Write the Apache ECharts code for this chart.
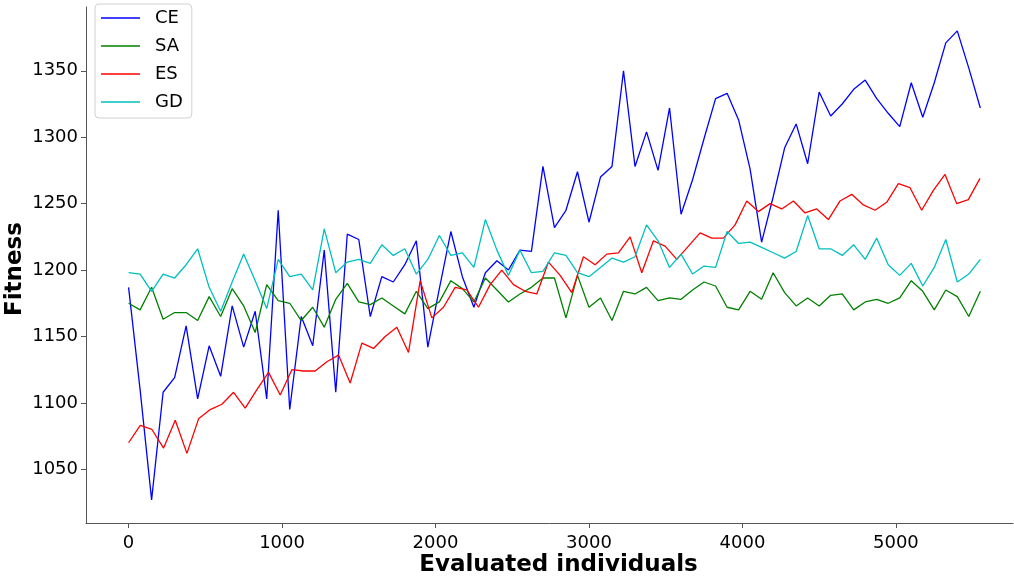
<!DOCTYPE html>
<html>
<head>
<meta charset="utf-8">
<script src="https://cdn.jsdelivr.net/npm/echarts@6/dist/echarts.min.js"></script>
<style>
  html, body { margin: 0; padding: 0; background: #fff; }
  #fitnessChart { width: 1014px; height: 578px; }
</style>
</head>
<body>
<div id="fitnessChart"></div>
<script>
// evaluated individuals (CE, SA, GD share the same steps)
var evals = [0,75,150,225,300,375,450,525,600,675,750,825,900,975,1050,1125,1200,1275,1350,1425,
  1500,1575,1650,1725,1800,1875,1950,2025,2100,2175,2250,2325,2400,2475,2550,2625,2700,2775,2850,2925,
  3000,3075,3150,3225,3300,3375,3450,3525,3600,3675,3750,3825,3900,3975,4050,4125,4200,4275,4350,4425,
  4500,4575,4650,4725,4800,4875,4950,5025,5100,5175,5250,5325,5400,5475,5550];
// ES has its own evaluation steps
var evalsES = [0,76,152,228,304,380,456,532,608,684,760,836,912,988,1064,1140,1216,1292,1368,1444,
  1520,1596,1672,1748,1824,1900,1976,2052,2128,2204,2280,2356,2432,2508,2584,2660,2736,2812,2888,2964,
  3040,3116,3192,3268,3344,3420,3496,3572,3648,3724,3800,3876,3952,4028,4104,4180,4256,4332,4408,4484,
  4560,4636,4712,4788,4864,4940,5016,5092,5168,5244,5320,5396,5472,5548];

var ceFitness = [1187,1110,1027,1108,1119,1158,1103,1143,1120,1173,1142,1169,1103,1245,1095,1165,1143,1215,1108,1227,
  1223,1165,1195,1191,1204,1222,1142,1186,1229,1195,1172,1198,1207,1200,1215,1214,1278,1232,1245,1274,
  1236,1270,1278,1350,1278,1304,1275,1322,1242,1268,1299,1329,1333,1313,1276,1221,1255,1292,1310,1280,
  1334,1316,1325,1336,1343,1329,1318,1308,1341,1315,1341,1371,1380,1352,1322];
var saFitness = [1175,1170,1187,1163,1168,1168,1162,1180,1165,1186,1173,1153,1189,1177,1175,1162,1172,1157,1178,1190,
  1176,1174,1179,1173,1167,1184,1171,1176,1192,1186,1176,1194,1185,1176,1182,1187,1194,1194,1164,1196,
  1172,1179,1162,1184,1182,1187,1177,1179,1178,1185,1191,1188,1172,1170,1184,1178,1198,1183,1173,1179,
  1173,1181,1182,1170,1176,1178,1175,1179,1192,1184,1170,1185,1180,1165,1184];
var esFitness = [1070,1083,1080,1066,1087,1062,1088,1095,1099,1108,1096,1110,1123,1106,1125,1124,1124,1131,1136,1115,
  1145,1141,1150,1157,1138,1192,1164,1172,1187,1185,1172,1189,1200,1189,1184,1182,1206,1196,1183,1210,
  1204,1212,1213,1225,1198,1222,1218,1208,1218,1228,1224,1224,1234,1252,1244,1250,1246,1252,1243,1246,
  1238,1252,1257,1249,1245,1251,1265,1262,1245,1260,1272,1250,1253,1269];
var gdFitness = [1198,1197,1184,1197,1194,1204,1216,1187,1169,1191,1212,1192,1171,1208,1195,1197,1185,1231,1198,1206,
  1208,1205,1219,1211,1216,1197,1208,1226,1211,1213,1202,1238,1215,1196,1215,1198,1199,1213,1211,1198,
  1195,1202,1209,1206,1210,1234,1222,1202,1212,1197,1203,1202,1229,1220,1221,1217,1213,1209,1214,1241,
  1216,1216,1211,1219,1208,1224,1204,1196,1205,1188,1202,1223,1191,1197,1208];

var xTicks = [0, 1000, 2000, 3000, 4000, 5000];
var yTicks = [1050, 1100, 1150, 1200, 1250, 1300, 1350];

//把x和y拼成点
function toPoints(xs, ys) {
  var pts = [];
  ys.forEach(function(y, i) {
    pts.push([xs[i], y]);
  });
  return pts;
}

function makeLine(name, color, xs, ys) {
  return {
    name: name,
    type: 'line',
    data: toPoints(xs, ys),
    symbol: 'none',
    lineStyle: { color: color, width: 1.3 },
    itemStyle: { color: color }
  };
}

// 不要千分位逗号
function plainNum(v) {
  return String(v);
}

var font = 'DejaVu Sans';
var myChart = echarts.init(document.getElementById('fitnessChart'));

var option = {
  animation: false,
  backgroundColor: '#fff',
  grid: { left: 86, right: 1, top: 7, bottom: 55, containLabel: false, outerBoundsMode: 'none' },
  legend: {
    orient: 'vertical',
    left: 95,
    top: 4,
    padding: [4, 9, 6, 6],
    itemGap: 8,
    itemWidth: 39,
    itemHeight: 1.5,
    icon: 'rect',
    borderColor: '#d0d0d0',
    borderWidth: 1,
    borderRadius: 4,
    backgroundColor: '#fff',
    textStyle: { fontFamily: font, fontSize: 18, color: '#000', lineHeight: 20, padding: [0, 0, 0, 10] },
    data: ['CE', 'SA', 'ES', 'GD']
  },
  xAxis: {
    type: 'value',
    min: -277.5,
    max: 5763,
    name: 'Evaluated individuals',
    nameLocation: 'middle',
    nameMoveOverlap: false,
    nameGap: 31,
    nameTextStyle: { fontFamily: font, fontSize: 23, fontWeight: 'bold', color: '#000', verticalAlign: 'top', padding: [0, 0, 0, 18] },
    axisLine: { onZero: false, lineStyle: { color: '#555', width: 1 } },
    axisTick: { customValues: xTicks, length: 5, lineStyle: { color: '#555' } },
    axisLabel: { customValues: xTicks, formatter: plainNum, fontFamily: font, fontSize: 18, color: '#000', margin: 11 },
    splitLine: { show: false }
  },
  yAxis: {
    type: 'value',
    min: 1009.6,
    max: 1398,
    name: 'Fitness',
    nameLocation: 'middle',
    nameMoveOverlap: false,
    nameGap: 59,
    nameTextStyle: { fontFamily: font, fontSize: 23, fontWeight: 'bold', color: '#000', padding: [0, 8, 0, 0] },
    axisLine: { show: true, onZero: false, lineStyle: { color: '#555', width: 1 } },
    axisTick: { show: true, customValues: yTicks, length: 5, lineStyle: { color: '#555' } },
    axisLabel: { customValues: yTicks, formatter: plainNum, fontFamily: font, fontSize: 18, color: '#000', margin: 8 },
    splitLine: { show: false }
  },
  series: [
    makeLine('CE', '#0000ff', evals, ceFitness),
    makeLine('SA', '#008000', evals, saFitness),
    makeLine('ES', '#ff0000', evalsES, esFitness),
    makeLine('GD', '#00bfbf', evals, gdFitness)
  ]
};
myChart.setOption(option);
</script>
</body>
</html>
